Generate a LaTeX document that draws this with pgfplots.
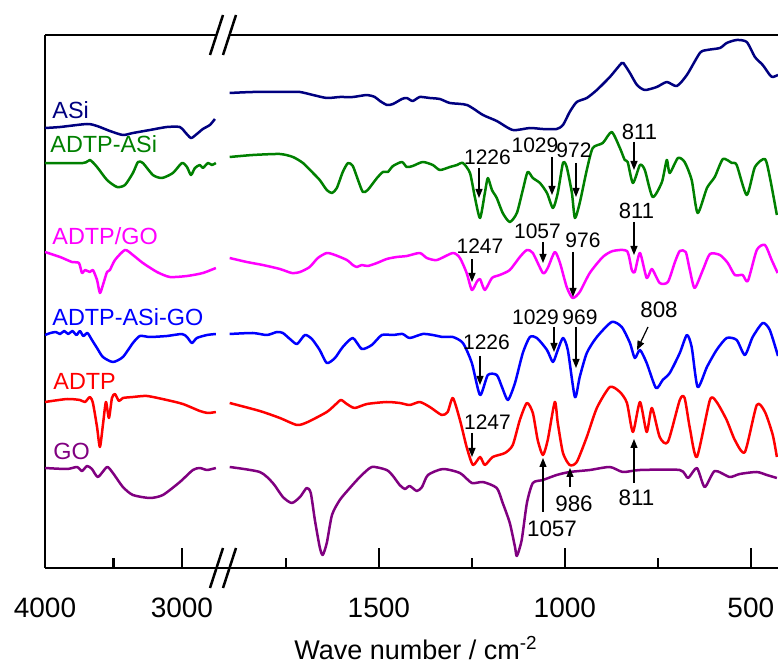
\documentclass[border=0pt]{standalone}
\usepackage{fontspec}
\setmainfont{Liberation Sans}
\usepackage{pgfplots}
\pgfplotsset{compat=1.18}
\usetikzlibrary{arrows.meta}
\definecolor{cASi}{RGB}{0,0,128}
\definecolor{cADTPASi}{RGB}{0,128,0}
\definecolor{cADTPGO}{RGB}{255,0,255}
\definecolor{cAAG}{RGB}{0,0,255}
\definecolor{cADTP}{RGB}{255,0,0}
\definecolor{cGO}{RGB}{128,0,128}
\pgfplotsset{myax/.style={scale only axis, height=266.5pt, ymin=-568, ymax=-35,
  x dir=reverse, ytick=\empty, xtick pos=left, tick align=inside,
  major tick length=10pt, minor tick length=5pt,
  tick style={line width=1.25pt, black},
  separate axis lines, axis x line*=box,
  axis line style={line width=1.25pt, -},
  x axis line style={-}, y axis line style={-},
  xticklabel style={font=\fontsize{14}{16}\selectfont, yshift=-11.5pt},
  /pgf/number format/assume math mode=true, /pgf/number format/1000 sep={},
  scaled x ticks=false,
  every axis plot/.append style={line width=1.25pt, smooth, tension=0.4, no markers, line join=round}}}
\begin{document}
\begin{tikzpicture}
\begin{axis}[myax, at={(22.5pt,-284pt)}, anchor=south west, width=89pt,
  xmin=2700, xmax=4000, axis y line*=left, xtick={3000,4000}, minor xtick={3500}]
\addplot[cASi] coordinates {(4000,-128) (3890,-127) (3693,-124) (3620,-126) (3526,-131) (3431,-135) (3358,-133) (3234,-130) (3110,-127) (3015,-127) (2978,-132) (2934,-138) (2891,-134) (2847,-129) (2796,-125) (2759,-119)};
\addplot[cADTPASi] coordinates {(4000,-163) (3723,-163) (3672,-160) (3620,-167) (3547,-180) (3474,-187) (3416,-185) (3358,-173) (3321,-162) (3285,-163) (3212,-175) (3146,-178) (3066,-173) (3000,-163) (2963,-167) (2934,-175) (2905,-168) (2869,-165) (2847,-168) (2810,-163) (2781,-165) (2752,-163)};
\addplot[cADTPGO] coordinates {(4000,-252) (3890,-257) (3803,-262) (3752,-263) (3730,-273) (3708,-270) (3672,-272) (3650,-270) (3620,-280) (3599,-293) (3577,-285) (3547,-272) (3526,-270) (3489,-260) (3416,-250) (3358,-255) (3285,-263) (3182,-272) (3088,-277) (2963,-276) (2847,-273) (2752,-268)};
\addplot[cAAG] coordinates {(4000,-335) (3960,-333) (3920,-332) (3890,-334) (3860,-331) (3830,-334) (3800,-331) (3770,-335) (3745,-331) (3720,-336) (3690,-333) (3657,-340) (3620,-348) (3577,-357) (3504,-362) (3431,-357) (3358,-343) (3307,-336) (3234,-337) (3110,-336) (3000,-334) (2963,-337) (2927,-343) (2891,-338) (2817,-335) (2752,-334)};
\addplot[cADTP] coordinates {(4000,-402) (3839,-399) (3745,-400) (3708,-402) (3672,-397) (3650,-403) (3620,-427) (3599,-447) (3577,-425) (3555,-402) (3533,-418) (3511,-398) (3489,-394) (3460,-401) (3431,-398) (3358,-397) (3255,-396) (3110,-400) (2993,-404) (2869,-411) (2810,-413) (2752,-412)};
\addplot[cGO] coordinates {(4000,-468) (3839,-469) (3766,-467) (3730,-471) (3693,-466) (3657,-469) (3613,-477) (3547,-467) (3504,-473) (3431,-487) (3358,-495) (3234,-498) (3139,-495) (3015,-482) (2920,-470) (2869,-468) (2817,-470) (2752,-468)};
\end{axis}
\begin{axis}[myax, at={(111.5pt,-284pt)}, anchor=south west, width=277.5pt,
  xmin=427, xmax=1919, axis y line=none, xtick={500,1000,1500}, minor xtick={750,1250,1750}]
\addplot[cASi] coordinates {(1901,-93) (1839,-92) (1747,-92) (1712,-92) (1677,-95) (1640,-98) (1605,-97) (1570,-97) (1532,-95) (1511,-97) (1497,-101) (1478,-105) (1462,-104) (1438,-99) (1425,-98) (1409,-101) (1390,-97) (1363,-98) (1336,-99) (1309,-103) (1263,-105) (1220,-115) (1183,-121) (1140,-130) (1094,-128) (1059,-129) (1022,-129) (1005,-125) (987,-112) (968,-102) (941,-98) (914,-90) (879,-77) (847,-63) (839,-65) (825,-73) (806,-85) (785,-90) (753,-87) (726,-82) (699,-86) (672,-75) (637,-53) (618,-50) (583,-48) (565,-43) (538,-40) (511,-42) (489,-57) (468,-65) (449,-75) (441,-77) (427,-75)};
\addplot[cADTPASi] coordinates {(1901,-157) (1839,-155) (1766,-154) (1731,-157) (1704,-163) (1677,-173) (1659,-180) (1640,-190) (1626,-193) (1613,-188) (1597,-172) (1583,-163) (1570,-166) (1556,-180) (1543,-192) (1530,-190) (1505,-178) (1489,-172) (1476,-172) (1462,-166) (1438,-162) (1425,-167) (1409,-166) (1382,-162) (1355,-165) (1336,-170) (1309,-167) (1290,-165) (1274,-163) (1255,-173) (1242,-197) (1228,-218) (1215,-193) (1207,-178) (1196,-190) (1183,-198) (1167,-213) (1148,-222) (1129,-213) (1113,-190) (1100,-172) (1086,-178) (1067,-183) (1048,-193) (1032,-208) (1019,-193) (1005,-163) (995,-167) (981,-193) (973,-218) (960,-203) (941,-170) (925,-148) (898,-143) (874,-132) (852,-148) (839,-160) (831,-162) (817,-183) (798,-165) (785,-170) (764,-197) (739,-182) (726,-160) (718,-173) (696,-158) (678,-162) (659,-180) (643,-213) (618,-188) (597,-177) (575,-159) (551,-163) (538,-165) (511,-195) (489,-167) (462,-159) (449,-177) (430,-215)};
\addplot[cADTPGO] coordinates {(1901,-258) (1855,-262) (1812,-265) (1766,-269) (1734,-273) (1712,-272) (1686,-267) (1664,-258) (1640,-253) (1618,-255) (1586,-260) (1570,-265) (1559,-267) (1546,-265) (1530,-266) (1505,-263) (1479,-259) (1452,-257) (1425,-256) (1390,-253) (1371,-258) (1344,-260) (1301,-253) (1282,-258) (1264,-273) (1250,-290) (1237,-282) (1228,-279) (1215,-290) (1196,-278) (1175,-275) (1148,-270) (1121,-257) (1102,-250) (1086,-253) (1059,-273) (1046,-268) (1027,-252) (1013,-263) (995,-287) (979,-298) (960,-292) (933,-273) (898,-257) (871,-251) (833,-251) (820,-270) (812,-272) (798,-253) (780,-278) (766,-269) (745,-283) (723,-282) (704,-262) (691,-251) (675,-252) (664,-270) (651,-288) (629,-270) (610,-254) (583,-255) (562,-263) (543,-275) (522,-275) (508,-281) (484,-250) (462,-245) (444,-260) (428,-273)};
\addplot[cAAG] coordinates {(1901,-334) (1839,-333) (1801,-335) (1774,-332) (1758,-333) (1739,-339) (1720,-344) (1699,-335) (1680,-339) (1659,-350) (1640,-363) (1618,-358) (1597,-347) (1570,-338) (1546,-349) (1519,-345) (1492,-335) (1462,-335) (1436,-334) (1417,-338) (1382,-334) (1355,-335) (1328,-337) (1301,-337) (1274,-343) (1250,-363) (1228,-395) (1207,-375) (1183,-375) (1169,-387) (1153,-400) (1134,-383) (1113,-353) (1094,-337) (1075,-338) (1048,-350) (1032,-362) (1019,-350) (1005,-338) (992,-350) (973,-397) (960,-377) (941,-353) (914,-337) (874,-322) (847,-327) (825,-343) (812,-358) (798,-350) (780,-363) (755,-388) (737,-380) (718,-373) (691,-353) (672,-335) (659,-347) (643,-387) (618,-367) (592,-350) (565,-338) (538,-340) (516,-355) (495,-337) (468,-323) (449,-330) (427,-356)};
\addplot[cADTP] coordinates {(1901,-403) (1820,-411) (1766,-418) (1720,-425) (1691,-422) (1640,-412) (1618,-405) (1602,-400) (1586,-404) (1565,-408) (1532,-404) (1479,-402) (1444,-403) (1417,-405) (1390,-402) (1363,-407) (1331,-415) (1315,-412) (1301,-398) (1282,-420) (1264,-447) (1247,-465) (1228,-457) (1215,-465) (1194,-457) (1161,-453) (1140,-445) (1121,-420) (1102,-403) (1086,-413) (1073,-440) (1059,-455) (1046,-440) (1027,-402) (1019,-423) (1005,-453) (987,-465) (968,-462) (941,-437) (914,-408) (879,-387) (852,-392) (833,-403) (817,-432) (798,-402) (780,-432) (766,-408) (745,-437) (723,-442) (691,-400) (678,-398) (664,-428) (645,-457) (610,-400) (592,-402) (565,-420) (543,-440) (516,-452) (484,-405) (462,-412) (441,-435) (430,-457)};
\addplot[cGO] coordinates {(1901,-467) (1820,-472) (1785,-483) (1758,-497) (1734,-503) (1712,-497) (1694,-488) (1683,-493) (1672,-520) (1659,-547) (1651,-555) (1640,-543) (1626,-515) (1605,-500) (1578,-488) (1551,-477) (1519,-467) (1479,-470) (1462,-476) (1444,-485) (1430,-489) (1417,-486) (1398,-491) (1384,-487) (1368,-475) (1328,-469) (1282,-473) (1250,-483) (1220,-482) (1183,-488) (1167,-503) (1148,-523) (1134,-547) (1129,-556) (1116,-540) (1102,-503) (1086,-483) (1059,-480) (1022,-475) (987,-472) (933,-470) (879,-467) (844,-472) (798,-470) (691,-470) (669,-478) (645,-468) (624,-487) (597,-471) (557,-477) (530,-474) (484,-472) (457,-475) (430,-478)};
\end{axis}
\begin{scope}[x=0.5pt,y=-0.5pt]
% axis break marks
\fill[white] (214.9,40) -- (227.9,40) -- (231.1,30) -- (218.1,30) -- cycle;
\draw[line width=1.25pt] (210,55) -- (223,15) (223,55) -- (236,15);
\draw[line width=1.25pt] (210,588) -- (223,548) (223,588) -- (236,548);
% axis title
\node[anchor=base, inner sep=0pt, font=\fontsize{13.5}{16}\selectfont] at (416,660) {Wave number / cm\textsuperscript{-2}};
% curve labels
\begin{scope}[every node/.style={anchor=base west, inner sep=0pt, font=\fontsize{11.7}{14}\selectfont}]
\node[text=cASi] at (52,119) {ASi};
\node[text=cADTPASi] at (50,153) {ADTP-ASi};
\node[text=cADTPGO] at (52,245) {ADTP/GO};
\node[text=cAAG] at (52,326) {ADTP-ASi-GO};
\node[text=cADTP] at (53,390) {ADTP};
\node[text=cGO] at (53,460) {GO};
\end{scope}
% annotations
\begin{scope}[every node/.style={anchor=base, inner sep=0pt, font=\fontsize{10.5}{12}\selectfont}]
\node at (487.5,165) {1226};
\node at (535,153) {1029};
\node at (574,158) {972};
\node[font=\fontsize{11}{12}\selectfont] at (639.5,140) {811};
\node at (480,254) {1247};
\node at (537.5,239) {1057};
\node at (583,248) {976};
\node[font=\fontsize{11}{12}\selectfont] at (636.5,219) {811};
\node at (535.5,325) {1029};
\node at (580,325) {969};
\node[font=\fontsize{11.2}{12}\selectfont] at (659,318) {808};
\node at (486.5,350) {1226};
\node at (487.5,430) {1247};
\node[font=\fontsize{11.2}{12}\selectfont] at (552,537) {1057};
\node[font=\fontsize{11.2}{12}\selectfont] at (574,512) {986};
\node[font=\fontsize{11.2}{12}\selectfont] at (636.5,506) {811};
\end{scope}
\begin{scope}[line width=0.6pt, -{Triangle[length=4.5pt,width=3.5pt]}]
\draw (479,168) -- (479,198);
\draw (552,157) -- (552,195);
\draw (576,163) -- (576,197);
\draw (634,142) -- (634,170);
\draw (472,259) -- (472,282);
\draw (543,242) -- (543,263);
\draw (573,252) -- (573,297);
\draw (634,222) -- (634,255);
\draw (554,327) -- (554,352);
\draw (576,327) -- (576,368);
\draw (648,327) -- (637,350);
\draw (480,356) -- (480,385);
\draw (472,433) -- (472,457);
\draw (543,512) -- (543,458);
\draw (570,487) -- (570,468);
\draw (634,483) -- (634,439);
\end{scope}
\end{scope}
\pgfresetboundingbox
\useasboundingbox (0,0) rectangle (389pt,-331.5pt);
\end{tikzpicture}
\end{document}
